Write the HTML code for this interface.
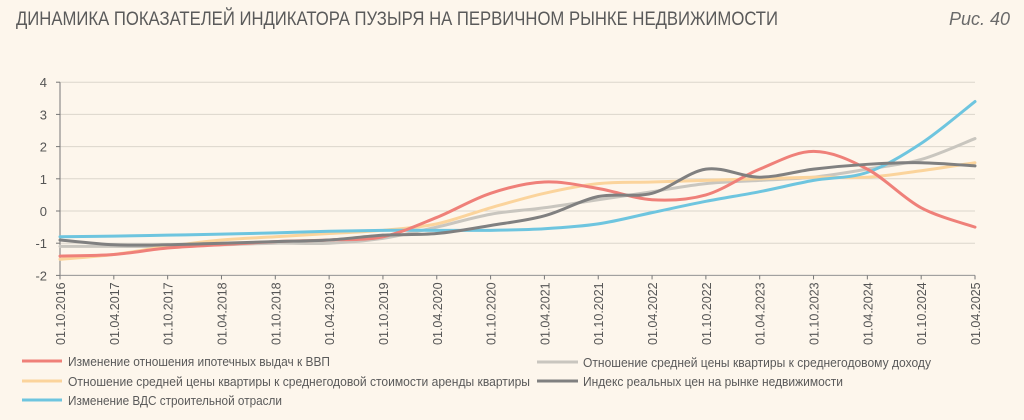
<!DOCTYPE html>
<html><head><meta charset="utf-8"><style>
html,body{margin:0;padding:0;background:#fdf6ec;}
svg{display:block;font-family:"Liberation Sans","DejaVu Sans",sans-serif;}
</style></head><body>
<svg id="c" width="1024" height="420" viewBox="0 0 1024 420">
<rect width="1024" height="420" fill="#fdf6ec"/>
<text x="16" y="25" font-size="19" fill="#5a5a5a" textLength="762" lengthAdjust="spacingAndGlyphs">ДИНАМИКА ПОКАЗАТЕЛЕЙ ИНДИКАТОРА ПУЗЫРЯ НА ПЕРВИЧНОМ РЫНКЕ НЕДВИЖИМОСТИ</text>
<text x="1010" y="25" font-size="18" fill="#6a6a6a" font-style="italic" text-anchor="end">Рис. 40</text>
<g id="grid"></g>
<g id="series" fill="none" stroke-width="3" stroke-linecap="round"></g>
<g font-size="13" fill="#5a5a5a">
<line x1="22" y1="361" x2="62" y2="361" stroke="#ef8079" stroke-width="3"/>
<text x="68" y="366" textLength="262" lengthAdjust="spacingAndGlyphs">Изменение отношения ипотечных выдач к ВВП</text>
<line x1="22" y1="381" x2="62" y2="381" stroke="#fbd49c" stroke-width="3"/>
<text x="68" y="386" textLength="462" lengthAdjust="spacingAndGlyphs">Отношение средней цены квартиры к среднегодовой стоимости аренды квартиры</text>
<line x1="22" y1="400" x2="62" y2="400" stroke="#6ec5df" stroke-width="3"/>
<text x="68" y="405" textLength="214" lengthAdjust="spacingAndGlyphs">Изменение ВДС строительной отрасли</text>
<line x1="537" y1="362" x2="578" y2="362" stroke="#c9c6bf" stroke-width="3"/>
<text x="583" y="367" textLength="348" lengthAdjust="spacingAndGlyphs">Отношение средней цены квартиры к среднегодовому доходу</text>
<line x1="537" y1="381" x2="578" y2="381" stroke="#808080" stroke-width="3"/>
<text x="583" y="386" textLength="260" lengthAdjust="spacingAndGlyphs">Индекс реальных цен на рынке недвижимости</text>
</g>
</svg>
<script>
var NS="http://www.w3.org/2000/svg";
var X0=60,DX=(975-60)/17,Y0=211,DY=32.2;
function X(i){return X0+i*DX}function Y(v){return Y0-v*DY}
var g=document.getElementById('grid');
function el(t,a,p,txt){var e=document.createElementNS(NS,t);for(var k in a)e.setAttribute(k,a[k]);if(txt)e.textContent=txt;p.appendChild(e);return e}
for(var v=-2;v<=4;v++){
 el('line',{x1:X0,x2:X(17),y1:Y(v),y2:Y(v),stroke:v==-2?'#d8d2c8':'#dcd6cc','stroke-width':1},g);
 el('line',{x1:X0-4,x2:X0,y1:Y(v),y2:Y(v),stroke:'#777'},g);
 el('text',{x:X0-13,y:Y(v)+5,'font-size':13,fill:'#555','text-anchor':'end'},g,String(v));
}
el('line',{x1:X0,x2:X0,y1:Y(4),y2:Y(-2),stroke:'#777'},g);
el('line',{x1:X0,x2:X(17),y1:Y(-2),y2:Y(-2),stroke:'#999'},g);
var labs=[];for(var y=2016;y<=2025;y++){if(y>2016)labs.push('01.04.'+y);if(y<2025)labs.push('01.10.'+y);}
labs.forEach(function(l,i){var x=X(i);el('line',{x1:x,x2:x,y1:Y(-2),y2:Y(-2)+4,stroke:'#777'},g);
 el('text',{x:0,y:0,'font-size':12.5,fill:'#555','text-anchor':'end',transform:'translate('+(x+5)+','+(Y(-2)+7)+') rotate(-90)'},g,l);});
var S=[
['#c9c6bf',[-1.1,-1.1,-1.1,-1.05,-1.0,-1.0,-0.85,-0.5,-0.1,0.1,0.35,0.6,0.85,0.95,1.05,1.3,1.6,2.25]],
['#fbd49c',[-1.5,-1.35,-1.1,-0.9,-0.8,-0.7,-0.6,-0.4,0.1,0.55,0.85,0.9,0.95,1.0,1.05,1.05,1.25,1.5]],
['#6ec5df',[-0.8,-0.78,-0.75,-0.72,-0.68,-0.63,-0.6,-0.6,-0.6,-0.55,-0.4,-0.05,0.3,0.6,0.95,1.2,2.1,3.4]],
['#ef8079',[-1.4,-1.35,-1.15,-1.05,-0.95,-0.9,-0.8,-0.2,0.55,0.9,0.7,0.35,0.5,1.3,1.85,1.3,0.1,-0.5]],
['#808080',[-0.9,-1.05,-1.05,-1.0,-0.95,-0.9,-0.75,-0.7,-0.45,-0.15,0.45,0.55,1.3,1.05,1.3,1.45,1.5,1.4]]
];
var sg=document.getElementById('series');
S.forEach(function(s){var p=s[1].map(function(v,i){return[X(i),Y(v)]});
 var d='M'+p[0][0]+','+p[0][1];
 for(var i=0;i<p.length-1;i++){var a=p[Math.max(0,i-1)],b=p[i],c=p[i+1],e=p[Math.min(p.length-1,i+2)];
  d+=' C'+(b[0]+(c[0]-a[0])/6)+','+(b[1]+(c[1]-a[1])/6)+' '+(c[0]-(e[0]-b[0])/6)+','+(c[1]-(e[1]-b[1])/6)+' '+c[0]+','+c[1];}
 el('path',{d:d,stroke:s[0]},sg);});
</script>
</body></html>
